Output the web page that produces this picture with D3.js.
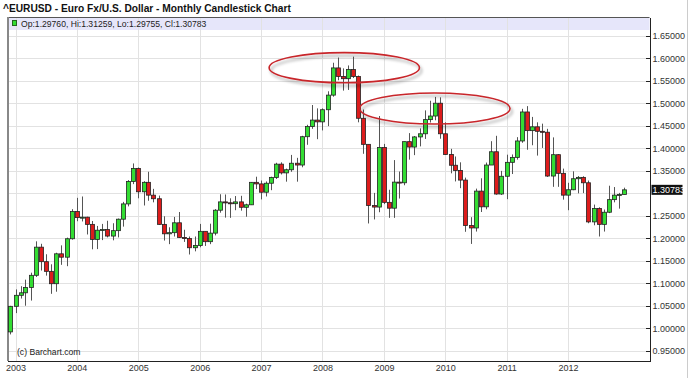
<!DOCTYPE html>
<html>
<head>
<meta charset="utf-8">
<script src="https://cdn.jsdelivr.net/npm/d3@7"></script>
<style>
  body { margin: 0; background: #fff; }
  svg { display: block; font-family: "Liberation Sans", Arial, sans-serif; }
  .grid line { stroke: #e2e2e2; shape-rendering: crispEdges; }
  .axis path, .axis line { stroke: #222; shape-rendering: crispEdges; }
  .axis text { fill: #333; font-size: 9px; }
</style>
</head>
<body>
<svg id="chart" width="688" height="378"></svg>
<script>
// Monthly EURUSD, Dec 2002 .. Dec 2012
const startMonth = '2002-12';
const opens = [
  0.9918,
  1.0487, 1.0732, 1.0788, 1.0906, 1.1177, 1.1803, 1.1480, 1.1265, 1.0990, 1.1655, 1.1580, 1.1990,
  1.2597, 1.2460, 1.2470, 1.2310, 1.1975, 1.2180, 1.2195, 1.2050, 1.2170, 1.2425, 1.2765, 1.3265,
  1.3555, 1.3035, 1.3245, 1.2960, 1.2880, 1.2310, 1.2100, 1.2125, 1.2345, 1.2020, 1.1995, 1.1790,
  1.1840, 1.2155, 1.1925, 1.2115, 1.2625, 1.2810, 1.2790, 1.2770, 1.2810, 1.2690, 1.2745, 1.3245,
  1.3210, 1.3025, 1.3225, 1.3355, 1.3650, 1.3455, 1.3525, 1.3670, 1.3630, 1.4260, 1.4485, 1.4630,
  1.4590, 1.4860, 1.5185, 1.5790, 1.5600, 1.5550, 1.5755, 1.5600, 1.4670, 1.4090, 1.2730, 1.2695,
  1.4020, 1.2800, 1.2670, 1.3250, 1.3235, 1.4150, 1.4030, 1.4255, 1.4325, 1.4640, 1.4720, 1.5005,
  1.4325, 1.3865, 1.3625, 1.3510, 1.3295, 1.2285, 1.2230, 1.3050, 1.2700, 1.3630, 1.3925, 1.2985,
  1.3380, 1.3690, 1.3800, 1.4165, 1.4810, 1.4395, 1.4480, 1.4380, 1.4360, 1.3385, 1.3860, 1.3445,
  1.2960, 1.3080, 1.3325, 1.3355, 1.3235, 1.2365, 1.2665, 1.2310, 1.2580, 1.2860, 1.2960, 1.2976
];
const highs = [
  1.0498,
  1.0863, 1.0935, 1.1080, 1.1235, 1.1933, 1.1878, 1.1645, 1.1422, 1.1679, 1.1843, 1.2015, 1.2648,
  1.2900, 1.2930, 1.2480, 1.2385, 1.2275, 1.2320, 1.2390, 1.2335, 1.2440, 1.2810, 1.3295, 1.3665,
  1.3575, 1.3270, 1.3480, 1.3100, 1.2950, 1.2490, 1.2245, 1.2475, 1.2585, 1.2190, 1.2040, 1.2040,
  1.2320, 1.2150, 1.2325, 1.2650, 1.2980, 1.2975, 1.2890, 1.2940, 1.2945, 1.2770, 1.3250, 1.3370,
  1.3285, 1.3265, 1.3370, 1.3680, 1.3690, 1.3550, 1.3855, 1.3790, 1.4280, 1.4525, 1.4965, 1.4890,
  1.4890, 1.5270, 1.5905, 1.6020, 1.5780, 1.5845, 1.6040, 1.5620, 1.4865, 1.4085, 1.3010, 1.4720,
  1.4100, 1.3080, 1.3740, 1.3485, 1.4150, 1.4340, 1.4275, 1.4445, 1.4845, 1.5060, 1.5145, 1.5135,
  1.4580, 1.3990, 1.3820, 1.3690, 1.3350, 1.2470, 1.3105, 1.3335, 1.3685, 1.4160, 1.4280, 1.3500,
  1.3860, 1.3865, 1.4250, 1.4880, 1.4940, 1.4700, 1.4580, 1.4550, 1.4435, 1.4245, 1.3870, 1.3550,
  1.3235, 1.3490, 1.3385, 1.3380, 1.3285, 1.2750, 1.2690, 1.2640, 1.3170, 1.3140, 1.3010, 1.3126
];
const lows = [
  0.9862,
  1.0336, 1.0660, 1.0500, 1.0615, 1.1140, 1.1283, 1.1170, 1.0765, 1.0812, 1.1410, 1.1380, 1.1970,
  1.2380, 1.2375, 1.2085, 1.1755, 1.1760, 1.1960, 1.2020, 1.1955, 1.2020, 1.2260, 1.2710, 1.3205,
  1.2890, 1.2730, 1.2835, 1.2800, 1.2300, 1.1950, 1.1870, 1.2040, 1.2010, 1.1920, 1.1640, 1.1710,
  1.1800, 1.1830, 1.1870, 1.2065, 1.2570, 1.2460, 1.2455, 1.2625, 1.2615, 1.2480, 1.2740, 1.3095,
  1.2865, 1.2930, 1.3070, 1.3320, 1.3420, 1.3260, 1.3480, 1.3260, 1.3580, 1.4080, 1.4435, 1.4205,
  1.4400, 1.4495, 1.5150, 1.5515, 1.5285, 1.5300, 1.5565, 1.4580, 1.3880, 1.2330, 1.2420, 1.2580,
  1.2760, 1.2455, 1.2455, 1.2885, 1.3180, 1.3750, 1.3850, 1.4045, 1.4210, 1.4575, 1.4625, 1.4215,
  1.3860, 1.3445, 1.3265, 1.3115, 1.2145, 1.1875, 1.2150, 1.2585, 1.2645, 1.3690, 1.2970, 1.2965,
  1.2870, 1.3430, 1.3750, 1.4125, 1.3970, 1.4070, 1.3840, 1.4010, 1.3365, 1.3145, 1.3145, 1.2860,
  1.2625, 1.3070, 1.3000, 1.3005, 1.2335, 1.2290, 1.2040, 1.2150, 1.2560, 1.2800, 1.2660, 1.2976
];
const closes = [
  1.0487,
  1.0732, 1.0788, 1.0906, 1.1177, 1.1803, 1.1480, 1.1265, 1.0990, 1.1655, 1.1580, 1.1990, 1.2597,
  1.2460, 1.2470, 1.2310, 1.1975, 1.2180, 1.2195, 1.2050, 1.2170, 1.2425, 1.2765, 1.3265, 1.3555,
  1.3035, 1.3245, 1.2960, 1.2880, 1.2310, 1.2100, 1.2125, 1.2345, 1.2020, 1.1995, 1.1790, 1.1840,
  1.2155, 1.1925, 1.2115, 1.2625, 1.2810, 1.2790, 1.2770, 1.2810, 1.2690, 1.2745, 1.3245, 1.3210,
  1.3025, 1.3225, 1.3355, 1.3650, 1.3455, 1.3525, 1.3670, 1.3630, 1.4260, 1.4485, 1.4630, 1.4590,
  1.4860, 1.5185, 1.5790, 1.5600, 1.5550, 1.5755, 1.5600, 1.4670, 1.4090, 1.2730, 1.2695, 1.4020,
  1.2800, 1.2670, 1.3250, 1.3235, 1.4150, 1.4030, 1.4255, 1.4325, 1.4640, 1.4720, 1.5005, 1.4325,
  1.3865, 1.3625, 1.3510, 1.3295, 1.2285, 1.2230, 1.3050, 1.2700, 1.3630, 1.3925, 1.2985, 1.3380,
  1.3690, 1.3800, 1.4165, 1.4810, 1.4395, 1.4480, 1.4380, 1.4360, 1.3385, 1.3860, 1.3445, 1.2960,
  1.3080, 1.3325, 1.3355, 1.3235, 1.2365, 1.2665, 1.2310, 1.2580, 1.2860, 1.2960, 1.2976, 1.30783
];
const priceTicks = [0.95, 1.00, 1.05, 1.10, 1.15, 1.20, 1.25, 1.30, 1.35, 1.40, 1.45, 1.50, 1.55, 1.60, 1.65];
const yearTicks = [2003, 2004, 2005, 2006, 2007, 2008, 2009, 2010, 2011, 2012];
const lastBar = { op: '1.29760', hi: '1.31259', lo: '1.29755', cl: '1.30783' };
// the two "double top" circles: centre month, centre price, half width (months), half height (price)
const highlightMonths = ['2008-05-10', '2009-10-31'];
const highlightPrices = [1.5795, 1.4887];
const highlightHalfMonths = [14.7, 14.7];
const highlightHalfPrices = [0.0335, 0.0345];

const plot = { left: 8, right: 649.5, top: 17, bottom: 361 };

const parseMonth = d3.utcParse('%Y-%m');
const first = parseMonth(startMonth);
const bars = opens.map((o, i) => ({
  date: d3.utcMonth.offset(first, i),
  open: o, high: highs[i], low: lows[i], close: closes[i]
}));
const lastClose = closes[closes.length - 1];

const svg = d3.select('#chart');

const x = d3.scaleUtc()
  .domain([new Date(Date.UTC(2003, 0, 1)), new Date(Date.UTC(2012, 0, 1))])
  .range([15.5, 568]);
const y = d3.scaleLinear()
  .domain([0.92708, 1.69226])
  .range([plot.bottom, plot.top]);
const monthPx = x(new Date(Date.UTC(2004, 0, 1))) - x(new Date(Date.UTC(2003, 0, 1)));

// Title
svg.append('text')
  .attr('x', 3).attr('y', 12)
  .attr('font-size', 10.2).attr('font-weight', 'bold').attr('fill', '#111')
  .text('^EURUSD - Euro Fx/U.S. Dollar - Monthly Candlestick Chart');

// legend band
svg.append('rect')
  .attr('x', plot.left).attr('y', plot.top)
  .attr('width', plot.right - plot.left).attr('height', 13)
  .attr('fill', '#e6e6fa');

// gridlines
const grid = svg.append('g').attr('class', 'grid');
grid.selectAll('.h').data(priceTicks).join('line')
  .attr('x1', plot.left).attr('x2', plot.right)
  .attr('y1', d => Math.round(y(d)) + 0.5).attr('y2', d => Math.round(y(d)) + 0.5);
grid.selectAll('.v').data(yearTicks).join('line')
  .attr('x1', d => Math.round(x(new Date(Date.UTC(d, 0, 1)))) + 0.5)
  .attr('x2', d => Math.round(x(new Date(Date.UTC(d, 0, 1)))) + 0.5)
  .attr('y1', plot.top).attr('y2', plot.bottom);

// legend row
svg.append('rect')
  .attr('x', 12.5).attr('y', 20.5).attr('width', 4).attr('height', 5)
  .attr('fill', '#33dd33').attr('stroke', '#226622');
svg.append('text')
  .attr('x', 21).attr('y', 27)
  .attr('font-size', 8.6).attr('fill', '#222')
  .text(`Op:${lastBar.op}, Hi:${lastBar.hi}, Lo:${lastBar.lo}, Cl:${lastBar.cl}`);

// frame: top and left border
svg.append('line')
  .attr('x1', plot.left).attr('x2', plot.right)
  .attr('y1', plot.top + 0.5).attr('y2', plot.top + 0.5)
  .attr('stroke', '#555');
svg.append('line')
  .attr('x1', plot.left).attr('x2', plot.left)
  .attr('y1', plot.top).attr('y2', plot.bottom)
  .attr('stroke', '#888').attr('stroke-width', 2);

// candles
const candles = svg.append('g').selectAll('g').data(bars).join('g')
  .attr('transform', d => `translate(${Math.round(x(d.date)) + 0.5},0)`);
candles.append('line')
  .attr('y1', d => y(d.high)).attr('y2', d => y(d.low))
  .attr('stroke', '#555').attr('stroke-width', 1);
candles.append('rect')
  .attr('x', -2)
  .attr('width', 4)
  .attr('y', d => Math.min(y(d.open), y(d.close)))
  .attr('height', d => Math.max(1, Math.abs(y(d.open) - y(d.close))))
  .attr('fill', d => d.close >= d.open ? '#33dd33' : '#dd1c1c')
  .attr('stroke', '#222').attr('stroke-width', 0.8);

// axes (the label next to the last-price box is hidden, as on the original)
const yAxis = d3.axisRight(y)
  .tickValues(priceTicks.filter(d => Math.abs(y(d) - y(lastClose)) > 10))
  .tickFormat(d3.format('.5f'))
  .tickSizeInner(-4).tickSizeOuter(0).tickPadding(3);
svg.append('g').attr('class', 'axis')
  .attr('transform', `translate(${plot.right},0)`)
  .call(yAxis);

const xAxis = d3.axisBottom(x)
  .tickValues(yearTicks.map(d => new Date(Date.UTC(d, 0, 1))))
  .tickFormat(d3.utcFormat('%Y'))
  .tickSize(0).tickPadding(4);
svg.append('g').attr('class', 'axis')
  .attr('transform', `translate(0,${plot.bottom})`)
  .call(xAxis)
  .call(g => g.select('.domain').attr('d', `M${plot.left},0.5H${plot.right}`));

// last price marker
const lastY = y(lastClose);
svg.append('rect')
  .attr('x', plot.right + 2).attr('y', lastY - 5)
  .attr('width', 31).attr('height', 10).attr('fill', '#111');
svg.append('text')
  .attr('x', plot.right + 3).attr('y', lastY + 3.2)
  .attr('font-size', 9).attr('fill', '#fff')
  .text(d3.format('.5f')(lastClose));

// watermark
svg.append('text')
  .attr('x', 17).attr('y', 355)
  .attr('font-size', 8.6).attr('fill', '#222')
  .text('(c) Barchart.com');

// highlight ellipses with soft shadow
const defs = svg.append('defs');
defs.append('filter').attr('id', 'shadow')
  .attr('x', '-20%').attr('y', '-50%').attr('width', '140%').attr('height', '200%')
  .append('feDropShadow')
  .attr('dx', 2).attr('dy', 3).attr('stdDeviation', 1.6)
  .attr('flood-color', '#000').attr('flood-opacity', 0.35);

svg.append('g').selectAll('ellipse').data(highlightMonths).join('ellipse')
  .attr('cx', d => x(d3.utcParse('%Y-%m-%d')(d)))
  .attr('cy', (d, i) => y(highlightPrices[i]))
  .attr('rx', (d, i) => highlightHalfMonths[i] * monthPx / 12)
  .attr('ry', (d, i) => y(highlightPrices[i] - highlightHalfPrices[i]) - y(highlightPrices[i]))
  .attr('fill', 'none')
  .attr('stroke', '#c8262b').attr('stroke-width', 1.6)
  .attr('filter', 'url(#shadow)');

// outer right edge line of the image
svg.append('line')
  .attr('x1', 687.5).attr('x2', 687.5).attr('y1', 0).attr('y2', 378)
  .attr('stroke', '#ccc');
</script>
</body>
</html>
